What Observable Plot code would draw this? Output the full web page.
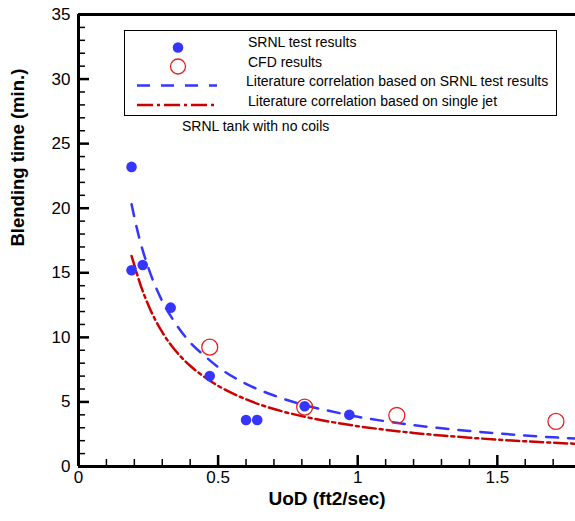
<!DOCTYPE html>
<html>
<head>
<meta charset="utf-8">
<script src="https://cdn.jsdelivr.net/npm/d3@7"></script>
<script src="https://cdn.jsdelivr.net/npm/@observablehq/plot@0.6"></script>
<style>
  html, body { margin: 0; padding: 0; background: white; }
  #chart { width: 575px; height: 521px; }
</style>
</head>
<body>
<div id="chart"></div>
<script>
// ---- data ----
const srnlX = [0.19, 0.19, 0.23, 0.33, 0.47, 0.60, 0.64, 0.81, 0.97];
const srnlY = [23.2, 15.2, 15.6, 12.3, 7.0, 3.6, 3.6, 4.67, 4.0];

const cfdX = [0.47, 0.81, 1.14, 1.71];
const cfdY = [9.24, 4.6, 3.95, 3.49];

const curveX   = [0.19, 0.20, 0.22, 0.25, 0.30, 0.35, 0.40, 0.45, 0.50, 0.60, 0.70, 0.80, 0.90, 1.00, 1.10, 1.20, 1.30, 1.40, 1.50, 1.60, 1.70, 1.78];
const srnlCorr = [20.3, 19.3, 17.5, 15.4, 12.8, 11.0, 9.6, 8.6, 7.7, 6.4, 5.5, 4.8, 4.3, 3.85, 3.5, 3.2, 2.96, 2.75, 2.57, 2.4, 2.26, 2.16];
const jetCorr  = [16.3, 15.6, 14.2, 12.5, 10.4, 8.9, 7.8, 6.95, 6.25, 5.2, 4.45, 3.9, 3.47, 3.12, 2.84, 2.6, 2.4, 2.23, 2.08, 1.95, 1.84, 1.76];

const xTickLabels = [0, 0.5, 1, 1.5];
const yTickLabels = [0, 5, 10, 15, 20, 25, 30, 35];
const xMinorTicks = [0.1, 0.2, 0.3, 0.4, 0.6, 0.7, 0.8, 0.9, 1.1, 1.2, 1.3, 1.4, 1.6, 1.7];
const yMinorTicks = d3.range(1, 35).filter(v => v % 5 !== 0);

const legendLabels = [
  "SRNL test results",
  "CFD results",
  "Literature correlation based on SRNL test results",
  "Literature correlation based on single jet"
];
const noteText = "SRNL tank with no coils";
const xLabel = "UoD (ft2/sec)";
const yLabel = "Blending time (min.)";

// ---- tables ----
const srnl = srnlX.map((x, i) => ({x, y: srnlY[i]}));
const cfd = cfdX.map((x, i) => ({x, y: cfdY[i]}));
const lineSrnl = curveX.map((x, i) => ({x, y: srnlCorr[i]}));
const lineJet = curveX.map((x, i) => ({x, y: jetCorr[i]}));

const BLUE = "#3535ff";
const RED_LINE = "#cc0000";
const RED_CIRCLE = "#e02424";
const FONT = "Arial, 'Liberation Sans', Helvetica, sans-serif";

const W = 575, H = 521, ML = 78, MR = 0, MT = 14, MB = 55;
const FW = W - ML - MR, FH = H - MT - MB;

const chart = Plot.plot({
  width: W, height: H,
  marginLeft: ML, marginRight: MR, marginTop: MT, marginBottom: MB,
  x: {domain: [0, 1.78]},
  y: {domain: [0, 35]},
  style: {fontFamily: FONT, fontSize: "17px", color: "black", background: "white", overflow: "visible"},
  marks: [
    Plot.axisX({ticks: xTickLabels, tickSize: 0, tickPadding: 4, tickFormat: d => String(d), label: null, fontSize: 17}),
    Plot.axisY({ticks: yTickLabels, tickSize: 0, tickPadding: 8, tickFormat: d => String(d), label: null, fontSize: 17}),
    Plot.ruleX(xMinorTicks, {insetTop: FH - 7, stroke: "black", strokeWidth: 1.5}),
    Plot.ruleX(xTickLabels, {insetTop: FH - 11, stroke: "black", strokeWidth: 2.5}),
    Plot.ruleY(yMinorTicks, {insetRight: FW - 7, stroke: "black", strokeWidth: 1.5}),
    Plot.ruleY(yTickLabels, {insetRight: FW - 11, stroke: "black", strokeWidth: 2.5}),
    Plot.line(lineSrnl, {x: "x", y: "y", stroke: BLUE, strokeWidth: 2.5, strokeDasharray: "12,10", curve: "monotone-x"}),
    Plot.line(lineJet, {x: "x", y: "y", stroke: RED_LINE, strokeWidth: 2.5, strokeDasharray: "13,4,3,4", curve: "monotone-x"}),
    Plot.dot(srnl, {x: "x", y: "y", r: 5.3, fill: BLUE, stroke: "none"}),
    Plot.dot(cfd, {x: "x", y: "y", r: 8, fill: "none", stroke: RED_CIRCLE, strokeWidth: 1.3}),
    Plot.ruleX([0], {stroke: "black", strokeWidth: 3}),
    Plot.ruleY([0], {stroke: "black", strokeWidth: 3}),
    Plot.ruleY([35], {stroke: "black", strokeWidth: 3}),
    Plot.text([xLabel], {frameAnchor: "bottom", dy: 38, fontWeight: "bold", fontSize: 19, fill: "black"}),
    Plot.text([yLabel], {frameAnchor: "left", dx: -60, dy: 6, rotate: -90, fontWeight: "bold", fontSize: 18.5, fill: "black"})
  ]
});

// ---- legend (drawn on top of the plot, pixel layout) ----
const svg = d3.select(chart);
const lg = svg.append("g").attr("font-family", FONT).attr("font-size", 14).attr("fill", "black").attr("text-anchor", "start");
lg.append("rect").attr("x", 124.5).attr("y", 30.5).attr("width", 432).attr("height", 85)
  .attr("fill", "white").attr("stroke", "black").attr("stroke-width", 1);
lg.append("circle").attr("cx", 178).attr("cy", 47.5).attr("r", 5.3).attr("fill", BLUE);
lg.append("circle").attr("cx", 178).attr("cy", 66.5).attr("r", 7.5).attr("fill", "none").attr("stroke", RED_CIRCLE).attr("stroke-width", 1.3);
lg.append("line").attr("x1", 137).attr("x2", 217).attr("y1", 85.5).attr("y2", 85.5)
  .attr("stroke", BLUE).attr("stroke-width", 2.5).attr("stroke-dasharray", "13,11");
lg.append("line").attr("x1", 137).attr("x2", 217).attr("y1", 105).attr("y2", 105)
  .attr("stroke", RED_LINE).attr("stroke-width", 2.5).attr("stroke-dasharray", "16,4,3,4");
const ty = [42, 62.5, 81.5, 101];
const tx = [248, 248, 246, 248];
legendLabels.forEach((t, i) => {
  lg.append("text").attr("x", tx[i]).attr("y", ty[i]).attr("dy", "0.35em").text(t);
});
lg.append("text").attr("x", 182).attr("y", 126).attr("dy", "0.35em").text(noteText);

document.getElementById("chart").appendChild(chart);
</script>
</body>
</html>
